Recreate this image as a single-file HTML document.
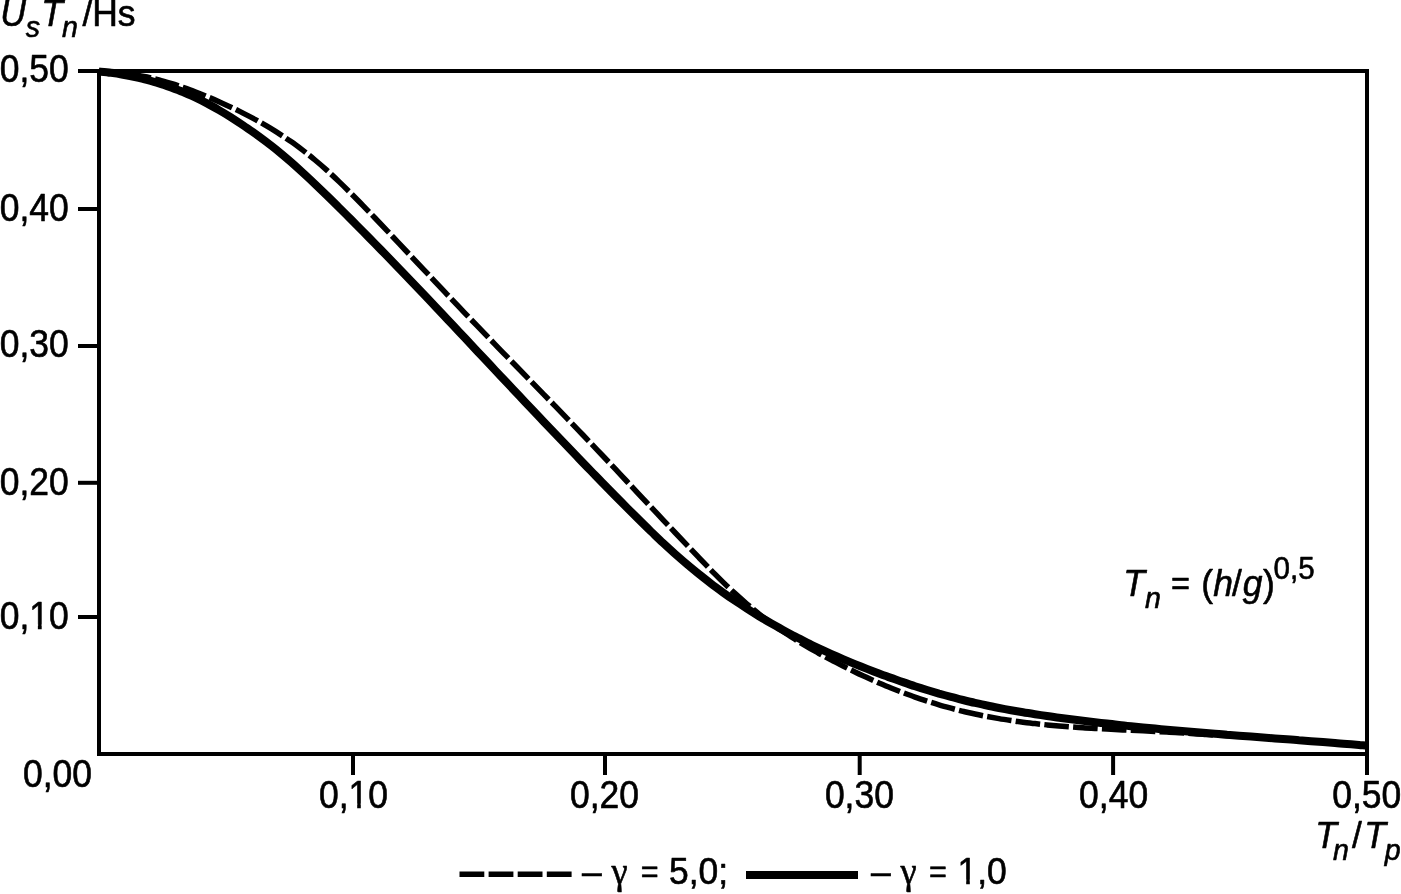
<!DOCTYPE html>
<html lang="ru">
<head>
<meta charset="utf-8">
<title>Us Tn / Hs</title>
<style>
html,body{margin:0;padding:0;background:#fff;}
body{width:1401px;height:894px;overflow:hidden;}
svg{display:block;}
text{font-family:"Liberation Sans",Arial,Helvetica,sans-serif;font-size:36px;fill:#000;stroke:#000;stroke-width:0.6px;stroke-linejoin:round;}
.i{font-style:italic;}
.s{font-size:29px;}
.p{font-size:30px;}
.e{font-size:33px;}
.g{font-family:"Liberation Serif","DejaVu Serif",serif;font-size:37px;}
.ln{stroke:#000;stroke-width:4;fill:none;stroke-linecap:butt;}
</style>
</head>
<body>
<svg width="1401" height="894" viewBox="0 0 1401 894">
<rect x="0" y="0" width="1401" height="894" fill="#fff"/>
<path class="ln" d="M78 71 H1367 V775"/>
<path class="ln" d="M99 69 V754 H1369"/>
<path class="ln" d="M78 209.0 H99"/>
<path class="ln" d="M78 346.0 H99"/>
<path class="ln" d="M78 482.8 H99"/>
<path class="ln" d="M78 617.0 H99"/>
<path class="ln" d="M353.0 754 V775"/>
<path class="ln" d="M605.0 754 V775"/>
<path class="ln" d="M859.7 754 V775"/>
<path class="ln" d="M1113.1 754 V775"/>
<path d="M99.0 71.6 C101.0 71.8 107.0 72.3 111.0 72.9 C115.0 73.4 119.0 74.0 123.0 74.7 C127.0 75.3 131.0 76.1 135.0 77.0 C139.0 77.9 143.0 78.8 147.0 79.9 C151.0 81.0 155.0 82.1 159.0 83.4 C163.0 84.6 167.0 86.0 171.0 87.4 C175.0 88.9 179.0 90.4 183.0 92.1 C187.0 93.8 191.0 95.6 195.0 97.4 C199.0 99.3 203.0 101.3 207.0 103.4 C211.0 105.5 215.0 107.8 219.0 110.1 C223.0 112.4 227.0 114.8 231.0 117.3 C235.0 119.9 239.0 122.5 243.0 125.2 C247.0 127.9 251.0 130.7 255.0 133.5 C259.0 136.4 263.0 139.3 267.0 142.4 C271.0 145.4 275.0 148.6 279.0 151.8 C283.0 155.1 287.0 158.5 291.0 162.0 C295.0 165.5 299.0 169.2 303.0 172.9 C307.0 176.5 311.0 180.3 315.0 184.1 C319.0 188.0 323.0 191.8 327.0 195.7 C331.0 199.6 335.0 203.5 339.0 207.5 C343.0 211.4 347.0 215.4 351.0 219.4 C355.0 223.4 359.0 227.5 363.0 231.5 C367.0 235.6 371.0 239.6 375.0 243.7 C379.0 247.8 383.0 251.9 387.0 256.0 C391.0 260.2 395.0 264.3 399.0 268.5 C403.0 272.6 407.0 276.8 411.0 281.0 C415.0 285.2 419.0 289.4 423.0 293.6 C427.0 297.8 431.0 302.0 435.0 306.3 C439.0 310.5 443.0 314.7 447.0 319.0 C451.0 323.2 455.0 327.5 459.0 331.7 C463.0 336.0 467.0 340.2 471.0 344.5 C475.0 348.8 479.0 353.0 483.0 357.3 C487.0 361.5 491.0 365.8 495.0 370.1 C499.0 374.3 503.0 378.6 507.0 382.8 C511.0 387.1 515.0 391.3 519.0 395.6 C523.0 399.8 527.0 404.1 531.0 408.3 C535.0 412.5 539.0 416.7 543.0 421.0 C547.0 425.2 551.0 429.4 555.0 433.6 C559.0 437.8 563.0 441.9 567.0 446.1 C571.0 450.3 575.0 454.5 579.0 458.6 C583.0 462.8 587.0 466.9 591.0 471.0 C595.0 475.1 599.0 479.3 603.0 483.3 C607.0 487.4 611.0 491.5 615.0 495.6 C619.0 499.6 623.0 503.7 627.0 507.7 C631.0 511.7 635.0 515.7 639.0 519.7 C643.0 523.7 647.0 527.6 651.0 531.5 C655.0 535.3 659.0 539.2 663.0 542.9 C667.0 546.6 671.0 550.3 675.0 553.9 C679.0 557.4 683.0 560.9 687.0 564.3 C691.0 567.7 695.0 571.0 699.0 574.2 C703.0 577.4 707.0 580.5 711.0 583.6 C715.0 586.6 719.0 589.5 723.0 592.4 C727.0 595.3 731.0 598.1 735.0 600.8 C739.0 603.5 743.0 606.1 747.0 608.7 C751.0 611.3 755.0 613.8 759.0 616.2 C763.0 618.6 767.0 621.0 771.0 623.3 C775.0 625.6 779.0 627.8 783.0 630.0 C787.0 632.2 791.0 634.4 795.0 636.4 C799.0 638.5 803.0 640.5 807.0 642.5 C811.0 644.5 815.0 646.4 819.0 648.3 C823.0 650.2 827.0 652.0 831.0 653.8 C835.0 655.6 839.0 657.3 843.0 659.1 C847.0 660.8 851.0 662.4 855.0 664.1 C859.0 665.7 863.0 667.3 867.0 668.9 C871.0 670.4 875.0 672.0 879.0 673.5 C883.0 675.0 887.0 676.5 891.0 677.9 C895.0 679.3 899.0 680.8 903.0 682.1 C907.0 683.5 911.0 684.9 915.0 686.2 C919.0 687.5 923.0 688.7 927.0 690.0 C931.0 691.2 935.0 692.4 939.0 693.6 C943.0 694.7 947.0 695.8 951.0 696.9 C955.0 698.0 959.0 699.0 963.0 700.0 C967.0 701.0 971.0 702.0 975.0 702.9 C979.0 703.8 983.0 704.7 987.0 705.5 C991.0 706.4 995.0 707.2 999.0 708.0 C1003.0 708.7 1007.0 709.5 1011.0 710.2 C1015.0 710.9 1019.0 711.6 1023.0 712.3 C1027.0 713.0 1031.0 713.6 1035.0 714.2 C1039.0 714.8 1043.0 715.4 1047.0 716.0 C1051.0 716.6 1055.0 717.2 1059.0 717.7 C1063.0 718.2 1067.0 718.8 1071.0 719.3 C1075.0 719.8 1079.0 720.3 1083.0 720.8 C1087.0 721.3 1091.0 721.8 1095.0 722.3 C1099.0 722.7 1103.0 723.2 1107.0 723.6 C1111.0 724.1 1115.0 724.5 1119.0 724.9 C1123.0 725.4 1127.0 725.8 1131.0 726.2 C1135.0 726.6 1139.0 727.0 1143.0 727.4 C1147.0 727.8 1151.0 728.2 1155.0 728.6 C1159.0 729.0 1163.0 729.3 1167.0 729.7 C1171.0 730.1 1175.0 730.4 1179.0 730.8 C1183.0 731.1 1187.0 731.5 1191.0 731.8 C1195.0 732.1 1199.0 732.5 1203.0 732.8 C1207.0 733.1 1211.0 733.5 1215.0 733.8 C1219.0 734.1 1223.0 734.4 1227.0 734.8 C1231.0 735.1 1235.0 735.4 1239.0 735.7 C1243.0 736.0 1247.0 736.3 1251.0 736.6 C1255.0 736.9 1259.0 737.2 1263.0 737.5 C1267.0 737.8 1271.0 738.1 1275.0 738.4 C1279.0 738.7 1283.0 739.0 1287.0 739.3 C1291.0 739.6 1295.0 739.9 1299.0 740.3 C1303.0 740.6 1307.0 740.9 1311.0 741.2 C1315.0 741.5 1319.0 741.8 1323.0 742.1 C1327.0 742.4 1331.0 742.7 1335.0 743.0 C1339.0 743.4 1343.0 743.7 1347.0 744.0 C1351.0 744.3 1355.7 744.7 1359.0 745.0 C1362.3 745.3 1365.7 745.5 1367.0 745.7" fill="none" stroke="#000" stroke-width="8" stroke-linejoin="round"/>
<path d="M99.0 71.0 C101.0 71.1 107.0 71.3 111.0 71.5 C115.0 71.8 119.0 72.2 123.0 72.7 C127.0 73.2 131.0 73.8 135.0 74.6 C139.0 75.3 143.0 76.1 147.0 77.0 C151.0 77.9 155.0 78.9 159.0 79.9 C163.0 81.0 167.0 82.2 171.0 83.4 C175.0 84.6 179.0 86.0 183.0 87.4 C187.0 88.8 191.0 90.2 195.0 91.8 C199.0 93.3 203.0 94.9 207.0 96.6 C211.0 98.2 215.0 99.9 219.0 101.7 C223.0 103.5 227.0 105.3 231.0 107.2 C235.0 109.1 239.0 111.0 243.0 113.1 C247.0 115.1 251.0 117.2 255.0 119.4 C259.0 121.6 263.0 123.8 267.0 126.2 C271.0 128.6 275.0 131.0 279.0 133.6 C283.0 136.2 287.0 138.8 291.0 141.6 C295.0 144.4 299.0 147.4 303.0 150.4 C307.0 153.5 311.0 156.6 315.0 160.0 C319.0 163.3 323.0 166.8 327.0 170.4 C331.0 174.0 335.0 177.7 339.0 181.6 C343.0 185.4 347.0 189.4 351.0 193.4 C355.0 197.4 359.0 201.4 363.0 205.6 C367.0 209.7 371.0 213.8 375.0 218.0 C379.0 222.2 383.0 226.4 387.0 230.6 C391.0 234.9 395.0 239.1 399.0 243.4 C403.0 247.6 407.0 251.9 411.0 256.1 C415.0 260.4 419.0 264.6 423.0 268.8 C427.0 273.1 431.0 277.3 435.0 281.6 C439.0 285.8 443.0 290.0 447.0 294.3 C451.0 298.5 455.0 302.7 459.0 306.9 C463.0 311.1 467.0 315.3 471.0 319.5 C475.0 323.6 479.0 327.8 483.0 331.9 C487.0 336.1 491.0 340.2 495.0 344.3 C499.0 348.5 503.0 352.6 507.0 356.7 C511.0 360.8 515.0 364.9 519.0 369.0 C523.0 373.1 527.0 377.2 531.0 381.3 C535.0 385.4 539.0 389.5 543.0 393.6 C547.0 397.7 551.0 401.8 555.0 405.9 C559.0 410.0 563.0 414.2 567.0 418.3 C571.0 422.5 575.0 426.6 579.0 430.8 C583.0 435.0 587.0 439.1 591.0 443.4 C595.0 447.6 599.0 451.8 603.0 456.0 C607.0 460.2 611.0 464.5 615.0 468.7 C619.0 473.0 623.0 477.2 627.0 481.5 C631.0 485.7 635.0 490.0 639.0 494.3 C643.0 498.5 647.0 502.8 651.0 507.1 C655.0 511.3 659.0 515.6 663.0 519.8 C667.0 524.0 671.0 528.3 675.0 532.5 C679.0 536.7 683.0 540.9 687.0 545.1 C691.0 549.3 695.0 553.5 699.0 557.7 C703.0 561.8 707.0 566.0 711.0 570.1 C715.0 574.1 719.0 578.2 723.0 582.1 C727.0 586.0 731.0 589.8 735.0 593.4 C739.0 597.1 743.0 600.6 747.0 604.0 C751.0 607.4 755.0 610.7 759.0 613.9 C763.0 617.0 767.0 620.0 771.0 623.0 C775.0 625.9 779.0 628.7 783.0 631.4 C787.0 634.1 791.0 636.7 795.0 639.3 C799.0 641.8 803.0 644.2 807.0 646.6 C811.0 649.0 815.0 651.2 819.0 653.5 C823.0 655.7 827.0 657.8 831.0 659.9 C835.0 662.0 839.0 664.0 843.0 666.0 C847.0 668.0 851.0 670.0 855.0 671.9 C859.0 673.9 863.0 675.7 867.0 677.6 C871.0 679.4 875.0 681.2 879.0 683.0 C883.0 684.7 887.0 686.4 891.0 688.0 C895.0 689.6 899.0 691.2 903.0 692.7 C907.0 694.2 911.0 695.7 915.0 697.1 C919.0 698.5 923.0 699.8 927.0 701.1 C931.0 702.4 935.0 703.7 939.0 704.8 C943.0 706.0 947.0 707.1 951.0 708.2 C955.0 709.3 959.0 710.3 963.0 711.3 C967.0 712.2 971.0 713.2 975.0 714.0 C979.0 714.9 983.0 715.7 987.0 716.5 C991.0 717.2 995.0 717.9 999.0 718.6 C1003.0 719.3 1007.0 719.9 1011.0 720.5 C1015.0 721.1 1019.0 721.7 1023.0 722.2 C1027.0 722.7 1031.0 723.2 1035.0 723.6 C1039.0 724.1 1043.0 724.5 1047.0 724.9 C1051.0 725.3 1055.0 725.6 1059.0 726.0 C1063.0 726.3 1067.0 726.6 1071.0 726.9 C1075.0 727.2 1079.0 727.5 1083.0 727.7 C1087.0 728.0 1091.0 728.2 1095.0 728.4 C1099.0 728.7 1103.0 728.9 1107.0 729.1 C1111.0 729.3 1115.0 729.5 1119.0 729.7 C1123.0 729.9 1127.0 730.1 1131.0 730.3 C1135.0 730.5 1139.0 730.6 1143.0 730.8 C1147.0 731.0 1151.0 731.2 1155.0 731.4 C1159.0 731.6 1163.0 731.8 1167.0 732.0 C1171.0 732.3 1175.0 732.5 1179.0 732.7 C1183.0 733.0 1187.0 733.2 1191.0 733.5 C1195.0 733.8 1199.0 734.0 1203.0 734.3 C1207.0 734.6 1211.0 735.0 1215.0 735.2 C1219.0 735.4 1223.0 735.6 1227.0 735.7 C1231.0 735.8 1235.0 735.8 1239.0 736.0 C1243.0 736.1 1247.0 736.4 1251.0 736.6 C1255.0 736.9 1259.0 737.2 1263.0 737.5 C1267.0 737.8 1271.0 738.1 1275.0 738.4 C1279.0 738.7 1283.0 739.0 1287.0 739.3 C1291.0 739.6 1295.0 739.9 1299.0 740.3 C1303.0 740.6 1307.0 740.9 1311.0 741.2 C1315.0 741.5 1319.0 741.8 1323.0 742.1 C1327.0 742.4 1331.0 742.7 1335.0 743.0 C1339.0 743.4 1343.0 743.7 1347.0 744.0 C1351.0 744.3 1355.7 744.7 1359.0 745.0 C1362.3 745.3 1365.7 745.5 1367.0 745.7" fill="none" stroke="#000" stroke-width="5.5" stroke-dasharray="24.6 4.27" stroke-dashoffset="1.0" stroke-linejoin="round"/>
<text transform="translate(-0.27 81.87) scale(0.985 1.07)">0,50</text>
<text transform="translate(-0.27 220.57) scale(0.985 1.07)">0,40</text>
<text transform="translate(-0.27 357.27) scale(0.985 1.07)">0,30</text>
<text transform="translate(-0.27 494.77) scale(0.985 1.07)">0,20</text>
<text transform="translate(-0.27 628.87) scale(0.985 1.07)">0,10</text>
<text transform="translate(23.03 787.27) scale(0.985 1.07)">0,00</text>
<text transform="translate(353.50 808.27) scale(0.985 1.07)" text-anchor="middle">0,10</text>
<text transform="translate(604.50 808.27) scale(0.985 1.07)" text-anchor="middle">0,20</text>
<text transform="translate(859.40 808.27) scale(0.985 1.07)" text-anchor="middle">0,30</text>
<text transform="translate(1113.60 808.27) scale(0.985 1.07)" text-anchor="middle">0,40</text>
<text transform="translate(1401.27 808.27) scale(0.985 1.07)" text-anchor="end">0,50</text>
<text transform="translate(0.19 25.85) scale(0.985 1.02)"><tspan class="i" x="0.00" dy="0.00">U</tspan><tspan class="i s" x="26.00" dy="11.11">s</tspan><tspan class="i" x="41.59" dy="-11.11">T</tspan><tspan class="i s" x="62.87" dy="11.21">n</tspan><tspan x="83.46" dy="-11.21">/Hs</tspan></text>
<text transform="translate(1315.16 847.85) scale(0.985 1.02)"><tspan class="i" x="0.00" dy="0.00">T</tspan><tspan class="i s" x="18.23" dy="11.79">n</tspan><tspan x="37.47" dy="-11.79">/</tspan><tspan class="i" x="49.75" dy="0.00">T</tspan><tspan class="i s" x="70.72" dy="11.79">p</tspan></text>
<text transform="translate(1123.16 596.35) scale(0.985 1.02)"><tspan class="i" x="0.00" dy="0.00">T</tspan><tspan class="i s" x="22.29" dy="11.11">n</tspan><tspan class="e" x="39.51" dy="-11.98"> =</tspan><tspan x="69.19" dy="0.87"> (</tspan><tspan class="i" x="91.36" dy="0.00">h</tspan><tspan x="110.57" dy="0.00">/</tspan><tspan class="i" x="121.41" dy="0.00">g</tspan><tspan x="142.06" dy="0.00">)</tspan><tspan class="p" x="152.74" dy="-17.23">0,5</tspan></text>
<path d="M459.5 874.3 H572" fill="none" stroke="#000" stroke-width="5.5" stroke-dasharray="24.8 4.3"/>
<text transform="translate(581.9 884.45) scale(0.985 1.02)">– <tspan class="g">γ</tspan> <tspan font-size="31" dx="3.5" dy="-2.6">=</tspan><tspan dx="0.5" dy="2.6"> 5,0;</tspan></text>
<path d="M746 875 H858" fill="none" stroke="#000" stroke-width="8"/>
<text transform="translate(870.9 884.45) scale(0.985 1.02)">– <tspan class="g">γ</tspan> <tspan font-size="31" dx="2.5" dy="-2.6">=</tspan><tspan dx="1" dy="2.6"> 1,0</tspan></text>
<rect x="30.00" y="624.40" width="7.87" height="5.80" fill="#fff"/>
<rect x="41.70" y="624.40" width="8.30" height="5.80" fill="#fff"/>
<rect x="349.00" y="803.40" width="8.18" height="5.80" fill="#fff"/>
<rect x="360.80" y="803.40" width="8.20" height="5.80" fill="#fff"/>
<rect x="958.00" y="879.40" width="8.18" height="5.80" fill="#fff"/>
<rect x="969.81" y="879.40" width="8.19" height="5.80" fill="#fff"/>
</svg>
</body>
</html>
